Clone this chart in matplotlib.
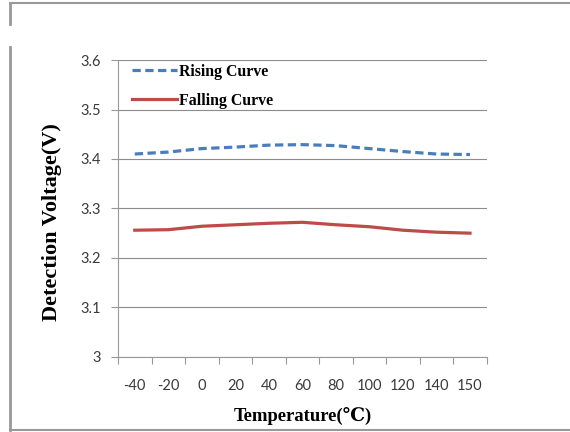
import matplotlib
matplotlib.use("Agg")
import matplotlib.pyplot as plt
from matplotlib.lines import Line2D

temps = ["-40", "-20", "0", "20", "40", "60", "80", "100", "120", "140", "150"]
rising = [3.410, 3.414, 3.421, 3.424, 3.428, 3.429, 3.427, 3.421, 3.415, 3.410, 3.409]
falling = [3.256, 3.257, 3.264, 3.267, 3.270, 3.272, 3.267, 3.263, 3.256, 3.252, 3.250]
yticks = [3.0, 3.1, 3.2, 3.3, 3.4, 3.5, 3.6]
ytick_labels = ["3", "3.1", "3.2", "3.3", "3.4", "3.5", "3.6"]

fig = plt.figure(figsize=(5.7, 4.32), dpi=100)
ax = fig.add_axes([0.207, 0.174, 0.647, 0.687])

x = list(range(len(temps)))
ax.plot(x, rising, color="#4a7ebb", lw=2.3, ls=(0, (2.6, 1.4)), label="Rising Curve")
ax.plot(x, falling, color="#be4b48", lw=2.3, label="Falling Curve")

ax.set_ylim(3.0, 3.6)
ax.set_yticks(yticks)
ax.set_yticklabels(ytick_labels)
ax.set_xlim(-0.5, len(temps) - 0.5)
ax.set_xticks([i - 0.5 for i in range(len(temps) + 1)])
ax.set_xticklabels([])
ax.set_xticks(x, minor=True)
ax.set_xticklabels(temps, minor=True)
ax.tick_params(axis="x", which="minor", length=0, pad=16, labelsize=10.5, labelcolor="#3a3a3a")
ax.tick_params(axis="x", which="major", length=5, color="#999999", direction="out")
ax.tick_params(axis="y", length=5, color="#999999", labelsize=10.5, labelcolor="#3a3a3a", pad=7)
for lab in ax.get_xticklabels(minor=True) + ax.get_yticklabels():
    lab.set_family("Lato")

ax.grid(axis="y", color="#8c8c8c", lw=0.8)
ax.set_axisbelow(True)
for s in ["top", "right"]:
    ax.spines[s].set_visible(False)
for s in ["left", "bottom"]:
    ax.spines[s].set_color("#999999")
    ax.spines[s].set_linewidth(0.8)

ax.set_ylabel("Detection Voltage(V)", family="Liberation Serif", fontweight="bold", fontsize=16)
ax.yaxis.set_label_coords(-0.152, 0.453)
ax.set_xlabel("Temperature(℃)", family=["Liberation Serif", "DejaVu Serif"], fontweight="bold", fontsize=13.4)
ax.xaxis.set_label_coords(0.5, -0.17)

leg = ax.legend(loc="upper left", bbox_to_anchor=(0.0, 1.035), frameon=False,
                prop={"family": "Liberation Serif", "weight": "bold", "size": 11.4},
                handlelength=2.85, handletextpad=0.08, labelspacing=0.8)

# screenshot frame lines
fig.add_artist(Line2D([10/570, 1], [1 - 3/432, 1 - 3/432], color="#999999", lw=1.5))
fig.add_artist(Line2D([10/570, 10/570], [1 - 3/432, 1 - 24/432], color="#999999", lw=2))
fig.add_artist(Line2D([10/570, 10/570], [1 - 47/432, 1 - 430/432], color="#999999", lw=2))
fig.add_artist(Line2D([10/570, 1], [1 - 430/432, 1 - 430/432], color="#999999", lw=1.5))

fig.savefig("out.png", dpi=100)
